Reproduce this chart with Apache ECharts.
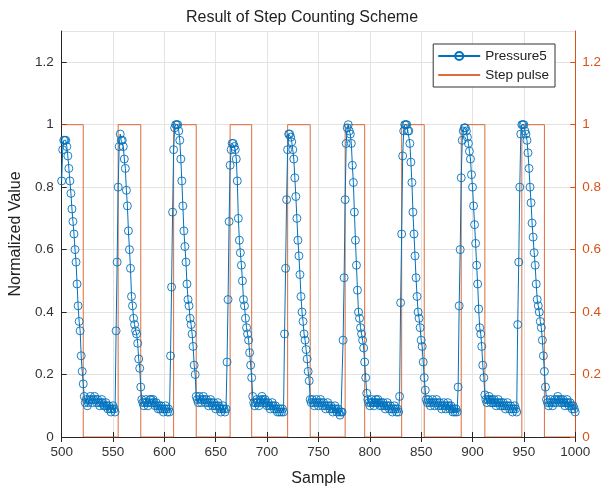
<!DOCTYPE html>
<html>
<head>
<meta charset="utf-8">
<script src="https://cdn.jsdelivr.net/npm/echarts@6/dist/echarts.min.js"></script>
<style>
  html, body { margin: 0; padding: 0; background: #fff; }
  #myChart { width: 604px; height: 492px; }
</style>
</head>
<body>
<div id="myChart"></div>
<script>
// one array per step, starting at the sample in cycleStarts
var cycleStarts = [500, 553, 606, 661, 717, 774, 829, 886, 944];
var cycle0 = [0.82,0.92,0.95,0.95,0.95,0.93,0.90,0.86,0.82,0.78,0.73,0.69,0.65,0.60,0.56,0.49,0.42,0.37,0.34,0.26,0.21,0.17,0.13,
  0.11,0.12,0.10,0.11,0.12,0.13,0.12,0.11,0.12,0.13,0.12,0.11,0.12,0.11,0.10,0.11,0.12,0.11,0.10,0.10,0.11,0.10,0.09,0.10,0.09,0.08,0.09,0.10,0.09,0.08];
var cycle1 = [0.34,0.56,0.80,0.93,0.97,0.95,0.95,0.93,0.89,0.86,0.79,0.74,0.66,0.60,0.54,0.45,0.42,0.38,0.36,0.34,0.33,0.30,0.25,0.22,0.16,0.12,
  0.11,0.10,0.11,0.12,0.11,0.10,0.11,0.12,0.12,0.11,0.12,0.11,0.10,0.11,0.10,0.09,0.10,0.09,0.10,0.09,0.08,0.09,0.10,0.09,0.08,0.09,0.08];
var cycle2 = [0.26,0.48,0.72,0.92,0.99,1.00,1.00,1.00,0.98,0.95,0.89,0.82,0.74,0.66,0.61,0.56,0.49,0.44,0.42,0.38,0.36,0.33,0.29,0.23,0.20,0.13,
  0.12,0.11,0.13,0.12,0.11,0.12,0.13,0.12,0.11,0.12,0.11,0.10,0.11,0.12,0.11,0.10,0.11,0.10,0.09,0.10,0.11,0.10,0.09,0.08,0.09,0.10,0.09,0.08,0.09];
var cycle3 = [0.24,0.44,0.69,0.87,0.92,0.94,0.94,0.93,0.92,0.89,0.82,0.70,0.63,0.59,0.55,0.50,0.44,0.42,0.38,0.35,0.33,0.31,0.27,0.23,0.19,0.13,
  0.11,0.10,0.11,0.12,0.11,0.10,0.11,0.12,0.13,0.12,0.11,0.12,0.11,0.10,0.11,0.10,0.09,0.10,0.11,0.10,0.09,0.10,0.09,0.08,0.09,0.08,0.09,0.08,0.09,0.08];
var cycle4 = [0.33,0.54,0.76,0.92,0.97,0.97,0.96,0.945,0.92,0.89,0.83,0.77,0.70,0.63,0.58,0.52,0.45,0.40,0.37,0.33,0.31,0.28,0.25,0.21,0.18,0.12,
  0.11,0.12,0.11,0.10,0.11,0.12,0.11,0.10,0.11,0.12,0.11,0.10,0.11,0.10,0.09,0.10,0.11,0.10,0.09,0.10,0.09,0.08,0.09,0.10,0.09,0.08,0.09,0.08,0.07,0.08,0.08];
var cycle5 = [0.31,0.51,0.76,0.94,0.99,1.00,0.98,0.97,0.94,0.87,0.815,0.72,0.63,0.55,0.47,0.40,0.38,0.35,0.33,0.31,0.285,0.24,0.19,0.14,
  0.12,0.11,0.10,0.11,0.12,0.11,0.10,0.11,0.12,0.11,0.12,0.11,0.10,0.11,0.10,0.11,0.10,0.09,0.10,0.11,0.10,0.09,0.10,0.09,0.08,0.09,0.10,0.09,0.08,0.09,0.08];
var cycle6 = [0.13,0.43,0.65,0.90,0.98,1.00,1.00,1.00,0.98,0.98,0.94,0.88,0.815,0.72,0.65,0.58,0.51,0.45,0.40,0.38,0.35,0.31,0.29,0.24,0.19,0.15,
  0.12,0.11,0.12,0.11,0.10,0.11,0.12,0.11,0.10,0.11,0.12,0.11,0.10,0.11,0.10,0.09,0.10,0.11,0.10,0.09,0.10,0.11,0.10,0.09,0.10,0.09,0.08,0.09,0.08,0.09,0.08];
var cycle7 = [0.16,0.42,0.60,0.83,0.95,0.98,0.99,0.99,0.98,0.96,0.94,0.915,0.89,0.84,0.80,0.74,0.68,0.62,0.55,0.49,0.41,0.35,0.33,0.29,0.23,0.19,0.135,
  0.12,0.11,0.12,0.13,0.12,0.11,0.12,0.11,0.12,0.11,0.10,0.11,0.12,0.11,0.10,0.11,0.10,0.11,0.10,0.09,0.10,0.11,0.10,0.09,0.10,0.09,0.08,0.09,0.10,0.09,0.08];
var cycle8 = [0.36,0.56,0.80,0.97,1.00,1.00,1.00,0.98,0.97,0.95,0.91,0.86,0.80,0.75,0.685,0.64,0.59,0.55,0.49,0.44,0.42,0.40,0.37,0.35,0.31,0.26,0.21,0.16,0.12,
  0.11,0.10,0.11,0.12,0.11,0.10,0.11,0.12,0.11,0.12,0.13,0.12,0.11,0.12,0.11,0.12,0.11,0.10,0.11,0.12,0.11,0.10,0.11,0.10,0.09,0.10,0.09,0.08];
var cycles = [cycle0, cycle1, cycle2, cycle3, cycle4, cycle5, cycle6, cycle7, cycle8];

// step pulse edges (samples)
var pulseRise = [500, 555, 609, 664, 720, 776, 831, 889, 948];
var pulseFall = [521, 577, 631, 685, 742, 795, 853, 912, 970];
var sampleEnd = 1000;

var pressureData = [];
for (var c = 0; c < cycles.length; c++) {
  for (var i = 0; i < cycles[c].length; i++) {
    pressureData.push([cycleStarts[c] + i, cycles[c][i]]);
  }
}

var pulseData = [];
for (var p = 0; p < pulseRise.length; p++) {
  if (p > 0) pulseData.push([pulseRise[p], 0]);
  pulseData.push([pulseRise[p], 1]);
  pulseData.push([pulseFall[p], 1]);
  pulseData.push([pulseFall[p], 0]);
}
pulseData.push([sampleEnd, 0]);

var blue = '#0072BD', orange = '#D95319';
var font = 'Liberation Sans, Arial, sans-serif';
var labelStyle = { color: '#333', fontSize: 13.5, fontFamily: font, formatter: function (v) { return String(v); } };

var myChart = echarts.init(document.getElementById('myChart'));
myChart.setOption({
  animation: false,
  textStyle: { fontFamily: font },
  title: {
    text: 'Result of Step Counting Scheme',
    left: 'center',
    top: 5,
    textStyle: { fontSize: 16, fontWeight: 'normal', color: '#222', fontFamily: font }
  },
  legend: {
    orient: 'vertical',
    right: 49,
    top: 44,
    backgroundColor: '#fff',
    borderColor: '#333',
    borderWidth: 1,
    borderRadius: 0,
    padding: [5, 6, 5, 4],
    itemGap: 5,
    itemWidth: 42,
    itemHeight: 10,
    textStyle: { fontSize: 13.5, color: '#222', fontFamily: font },
    data: [
      { name: 'Pressure5' },
      { name: 'Step pulse', itemStyle: { opacity: 0 } }
    ]
  },
  grid: { left: 60, right: 28, top: 31, bottom: 55 },
  xAxis: [{
    type: 'value',
    min: 500, max: 1000, interval: 50,
    name: 'Sample',
    nameLocation: 'middle',
    nameGap: 34,
    nameTextStyle: { fontSize: 16, color: '#222', fontFamily: font },
    axisLine: { onZero: false, lineStyle: { color: '#262626' } },
    axisTick: { inside: true, length: 5, lineStyle: { color: '#262626' } },
    axisLabel: Object.assign({ margin: 8 }, labelStyle),
    splitLine: { show: true, lineStyle: { color: '#e3e3e3' } }
  }, {
    type: 'value',
    position: 'top',
    min: 500, max: 1000, interval: 50,
    axisLine: { show: true, lineStyle: { color: '#262626' } },
    axisTick: { show: true, inside: true, length: 5, lineStyle: { color: '#262626' } },
    axisLabel: { show: false },
    splitLine: { show: false }
  }],
  yAxis: [{
    type: 'value',
    min: 0, max: 1.3, interval: 0.2,
    name: 'Normalized Value',
    nameLocation: 'middle',
    nameGap: 32,
    nameTextStyle: { fontSize: 16, color: '#222', fontFamily: font },
    axisLine: { show: true, lineStyle: { color: '#262626' } },
    axisTick: { show: true, inside: true, length: 5, lineStyle: { color: '#262626' } },
    axisLabel: Object.assign({ margin: 8, showMaxLabel: false }, labelStyle),
    splitLine: { show: true, lineStyle: { color: '#e3e3e3' } }
  }, {
    type: 'value',
    position: 'right',
    min: 0, max: 1.3, interval: 0.2,
    axisLine: { show: true, lineStyle: { color: orange } },
    axisTick: { show: true, inside: true, length: 5, lineStyle: { color: orange } },
    axisLabel: { margin: 7, showMaxLabel: false, color: orange, fontSize: 13.5, fontFamily: font },
    splitLine: { show: false }
  }],
  series: [{
    name: 'Pressure5',
    type: 'line',
    data: pressureData,
    xAxisIndex: 0,
    yAxisIndex: 0,
    symbol: 'circle',
    symbolSize: 8,
    showAllSymbol: true,
    sampling: 'none',
    z: 3,
    lineStyle: { color: blue, width: 1 },
    itemStyle: { color: 'rgba(0,0,0,0)', borderColor: blue, borderWidth: 0.9 }
  }, {
    name: 'Step pulse',
    type: 'line',
    data: pulseData,
    xAxisIndex: 0,
    yAxisIndex: 1,
    symbol: 'none',
    z: 2,
    lineStyle: { color: orange, width: 1, opacity: 0.85 },
    itemStyle: { color: orange }
  }]
});
</script>
</body>
</html>
